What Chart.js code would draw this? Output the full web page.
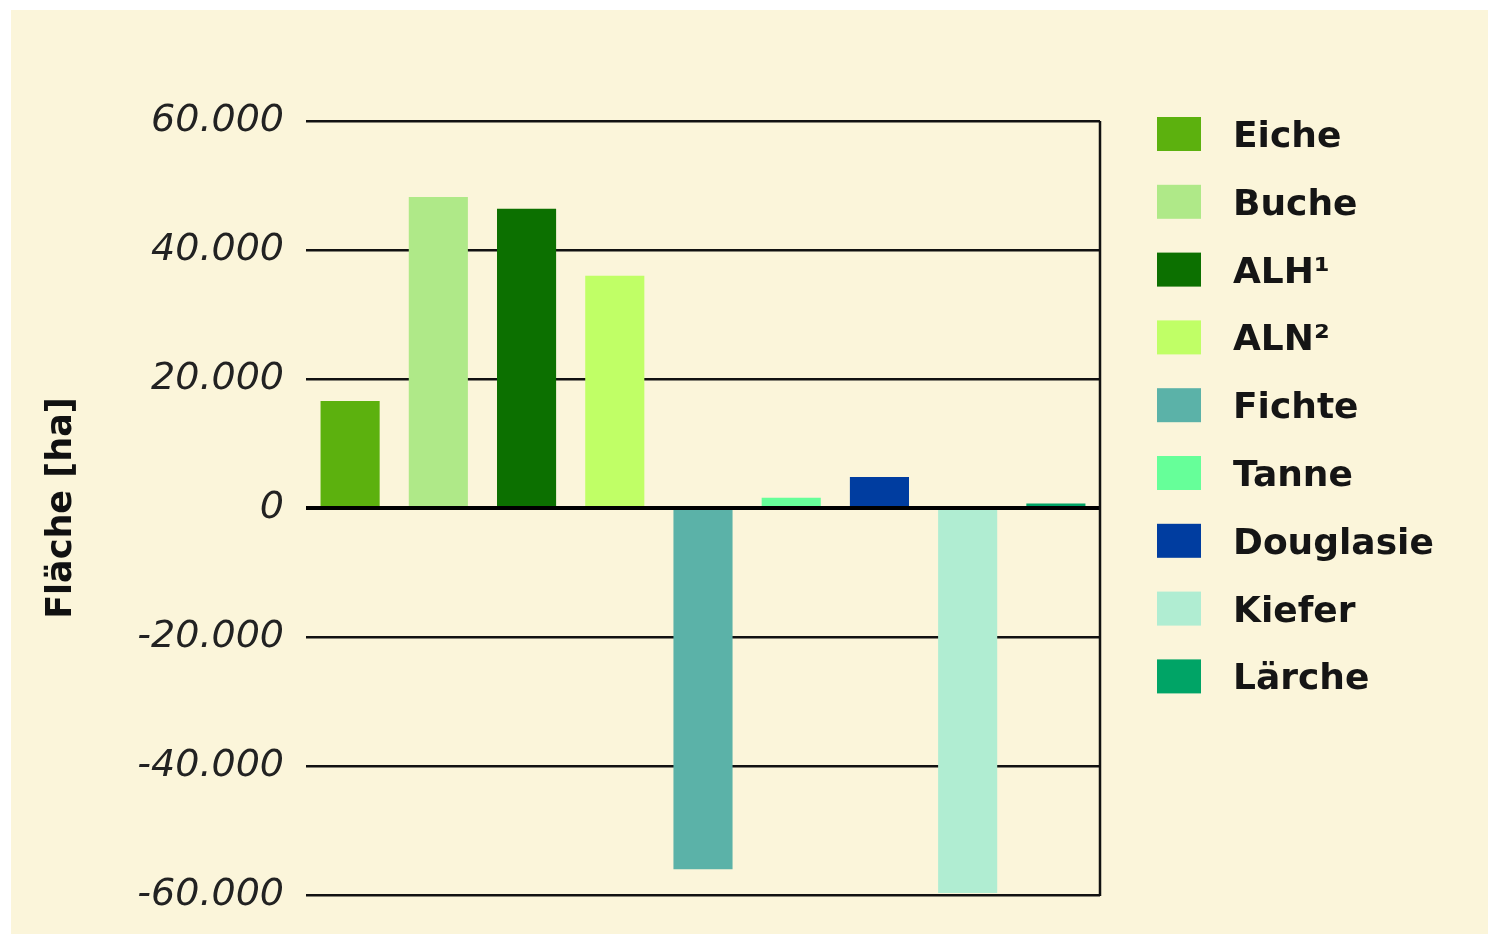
<!DOCTYPE html>
<html>
<head>
<meta charset="utf-8">
<script src="https://cdn.jsdelivr.net/npm/chart.js@4.4.1/dist/chart.umd.min.js"></script>
<style>
  html, body { margin: 0; padding: 0; background: #ffffff; }
  #wrap { width: 1488px; height: 936px; position: relative; }
</style>
</head>
<body>
<div id="wrap"><canvas id="flaeche"></canvas></div>
<script>
// Baumarten (Kategorien) und Flächenänderung in ha
const baumarten = ["Eiche", "Buche", "ALH\u00B9", "ALN\u00B2", "Fichte", "Tanne", "Douglasie", "Kiefer", "L\u00E4rche"];
const flaeche = [16600, 48200, 46400, 36000, -56000, 1600, 4800, -59700, 700];
const farben = ["#5cb10e", "#afe988", "#0c7000", "#c0ff66", "#5bb2a8", "#66ff99", "#003da0", "#b0edd2", "#00a466"];
const yTicks = [-60000, -40000, -20000, 0, 20000, 40000, 60000];

// Zahl im deutschen Format (60.000)
function fmt(v) {
  const s = String(Math.abs(v)).replace(/\B(?=(\d{3})+(?!\d))/g, ".");
  return (v < 0 ? "-" : "") + s;
}

// Hintergrund-Panel
const panel = {
  id: "panel",
  beforeDraw(chart) {
    const { ctx, width, height } = chart;
    ctx.save();
    ctx.fillStyle = "#fbf5da";
    ctx.fillRect(11, 10, width - 11, height - 12);
    ctx.restore();
  },
};

// Nulllinie, rechter Rahmen und Legende
const extras = {
  id: "extras",
  afterDatasetsDraw(chart) {
    const { ctx, chartArea } = chart;
    const y0 = chart.scales.y.getPixelForValue(0);
    ctx.save();
    ctx.strokeStyle = "#000";
    ctx.lineWidth = 4;
    ctx.beginPath();
    ctx.moveTo(chartArea.left, y0);
    ctx.lineTo(chartArea.right, y0);
    ctx.stroke();

    ctx.lineWidth = 2.5;
    ctx.strokeStyle = "#111";
    ctx.beginPath();
    ctx.moveTo(chartArea.right, chartArea.top);
    ctx.lineTo(chartArea.right, chartArea.bottom + 1);
    ctx.stroke();

    // Legende
    const x = chartArea.right + 57;
    let cy = chartArea.top + 13;
    ctx.font = "bold 36px 'DejaVu Sans'";
    ctx.textBaseline = "alphabetic";
    ctx.textAlign = "left";
    baumarten.forEach((name, i) => {
      ctx.fillStyle = farben[i];
      ctx.fillRect(x, cy - 17, 44, 34);
      ctx.fillStyle = "#151515";
      ctx.fillText(name, x + 76, cy + 13);
      cy += 67.8;
    });
    ctx.restore();
  },
};

new Chart(document.getElementById("flaeche"), {
  type: "bar",
  data: {
    labels: baumarten,
    datasets: [
      {
        data: flaeche,
        backgroundColor: farben,
        borderWidth: 0,
        barPercentage: 0.67,
        categoryPercentage: 1,
      },
    ],
  },
  options: {
    responsive: true,
    maintainAspectRatio: false,
    animation: false,
    layout: { padding: { left: 0, top: 121, right: 388, bottom: 41 } },
    plugins: {
      legend: { display: false },
      tooltip: { enabled: false },
    },
    scales: {
      x: { display: false },
      y: {
        min: -60000,
        max: 60000,
        afterBuildTicks(scale) {
          scale.ticks = yTicks.map((v) => ({ value: v }));
        },
        afterFit(scale) {
          scale.width = 306;
          scale.paddingTop = 0;
          scale.paddingBottom = 0;
        },
        border: { display: false },
        grid: {
          color: "#111",
          lineWidth: 2.5,
          drawTicks: false,
        },
        ticks: {
          padding: 22,
          color: "#222",
          font: { family: "'DejaVu Sans'", size: 38, style: "italic" },
          callback: (v) => fmt(v),
        },
        title: {
          display: true,
          text: "Fl\u00E4che [ha]",
          color: "#111",
          font: { family: "'DejaVu Sans'", size: 35, weight: "bold" },
          padding: { top: 41, bottom: 0 },
        },
      },
    },
  },
  plugins: [panel, extras],
});
</script>
</body>
</html>
